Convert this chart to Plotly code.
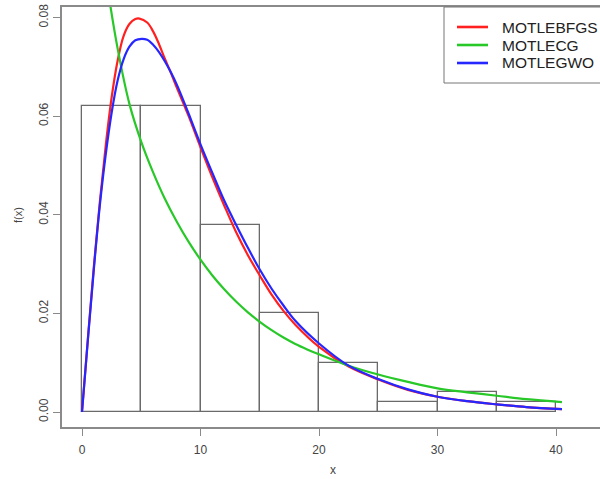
import plotly.graph_objects as go

# Histogram (density) data
bin_left = [0, 5, 10, 15, 20, 25, 30, 35]
bin_width = 5
density = [0.062, 0.062, 0.038, 0.020, 0.010, 0.002, 0.004, 0.002]

# Fitted density curves
x_bfgs = [0, 0.5, 1, 1.5, 2, 2.5, 3, 3.5, 4, 4.5, 4.85, 5.5, 6, 6.5, 7, 7.5, 8, 9, 10, 11, 12,
          13, 14, 15, 16, 17, 18, 20, 22.5, 25, 27.5, 30, 32.5, 35, 37.5, 40.5]
y_bfgs = [0, 0.0150, 0.0295, 0.0425, 0.0540, 0.0638, 0.0712, 0.0762, 0.0787, 0.0797, 0.0798,
          0.0790, 0.0772, 0.0746, 0.0716, 0.0688, 0.0658, 0.0600, 0.0537, 0.0476, 0.0419, 0.0365,
          0.0318, 0.0277, 0.0238, 0.0205, 0.0177, 0.0132, 0.0092, 0.0066, 0.0045, 0.0031, 0.0022,
          0.00155, 0.0010, 0.00058]

x_cg = [0, 1, 2, 3, 4, 5, 6, 7, 8, 9, 10, 11, 12, 13, 14, 15, 16, 17, 18, 19, 20, 22.5, 25, 27.5,
        30, 32.5, 35, 37.5, 40.5]
y_cg = [0.125, 0.106, 0.0885, 0.0738, 0.0625, 0.0548, 0.0486, 0.0432, 0.0386, 0.0345, 0.0309,
        0.0277, 0.0249, 0.0224, 0.0202, 0.0183, 0.0166, 0.0151, 0.0138, 0.0127, 0.0117, 0.0094,
        0.0076, 0.0061, 0.0048, 0.0040, 0.0033, 0.0026, 0.0020]

x_gwo = [0, 0.5, 1, 1.5, 2, 2.5, 3, 3.5, 4, 4.5, 5.04, 5.5, 6, 6.5, 7, 7.5, 8, 8.72, 9, 10, 11, 12,
         13, 14, 15, 16, 17, 18, 20, 22.5, 25, 27.5, 30, 32.5, 35, 37.5, 40.5]
y_gwo = [0, 0.0148, 0.0290, 0.0418, 0.0522, 0.0607, 0.0672, 0.0715, 0.0741, 0.0754, 0.0757,
         0.0755, 0.0745, 0.0730, 0.0711, 0.0689, 0.0664, 0.0622, 0.0605, 0.0543, 0.0485, 0.0429,
         0.0380, 0.0333, 0.0289, 0.0250, 0.0216, 0.0185, 0.0139, 0.0094, 0.0067, 0.0046, 0.0031,
         0.0022, 0.00155, 0.0010, 0.00058]

series_names = ["MOTLEBFGS", "MOTLECG", "MOTLEGWO"]
series_colors = ["#ff2020", "#28c828", "#2626ff"]

x_ticks = [0, 10, 20, 30, 40]
y_ticks = [0.00, 0.02, 0.04, 0.06, 0.08]

FONT = "Liberation Sans, Arial, sans-serif"
AXIS_GRAY = "#8a8a8a"

# plot area in pixels: left 62, right 600, top 7, bottom 427
def px(xp):
    return (xp - 62) / 538.0

def py(yp):
    return (427 - yp) / 420.0

fig = go.Figure()

fig.add_trace(go.Bar(
    x=bin_left, y=density, width=[bin_width] * len(bin_left), offset=0,
    marker=dict(color="rgba(0,0,0,0)", line=dict(color="#6a6a6a", width=1.3)),
    showlegend=False, hoverinfo="skip",
))

for name, xs, ys, col in zip(series_names, [x_bfgs, x_cg, x_gwo], [y_bfgs, y_cg, y_gwo], series_colors):
    fig.add_trace(go.Scatter(
        x=xs, y=ys, mode="lines", name=name, showlegend=False,
        line=dict(color=col, width=2.2, shape="spline", smoothing=1.0),
    ))

# Legend box (R-style, drawn as shapes + text)
shapes = [dict(type="rect", xref="paper", yref="paper", x0=px(444), x1=px(608), y0=py(83), y1=py(7),
               line=dict(color="#777777", width=1), fillcolor="white", layer="above")]
annotations = []
row_y = [27, 45, 63]
for name, col, ry in zip(series_names, series_colors, row_y):
    shapes.append(dict(type="line", xref="paper", yref="paper", x0=px(457), x1=px(488),
                       y0=py(ry), y1=py(ry), line=dict(color=col, width=2.6), layer="above"))
    annotations.append(dict(text=name, xref="paper", yref="paper", x=px(500), y=py(ry),
                            xanchor="left", yanchor="middle", showarrow=False,
                            font=dict(family=FONT, size=15.5, color="#222222")))

annotations += [
    dict(text="x", xref="paper", yref="paper", x=px(333), y=py(470),
         showarrow=False, font=dict(size=12, color="#444444"), xanchor="center", yanchor="middle"),
    dict(text="f(x)", xref="paper", yref="paper", x=px(18), y=py(215),
         showarrow=False, textangle=-90, font=dict(size=11, color="#444444"),
         xanchor="center", yanchor="middle"),
]

fig.update_layout(
    width=600, height=479,
    margin=dict(l=62, r=0, t=7, b=52),
    paper_bgcolor="white", plot_bgcolor="white",
    font=dict(family=FONT, color="#444444"),
    bargap=0, showlegend=False,
    xaxis=dict(
        range=[-1.688, 43.71], tickvals=x_ticks, ticktext=[str(v) for v in x_ticks],
        showgrid=False, zeroline=False,
        showline=True, mirror=True, linecolor=AXIS_GRAY, linewidth=1.5,
        ticks="outside", ticklen=7, tickwidth=1.3, tickcolor=AXIS_GRAY,
        tickfont=dict(size=12, color="#444444"), ticklabelstandoff=4,
    ),
    yaxis=dict(
        range=[-0.00304, 0.08215], tickvals=y_ticks, ticktext=[f"{v:.2f}" for v in y_ticks],
        showgrid=False, zeroline=False,
        showline=True, mirror=False, linecolor=AXIS_GRAY, linewidth=1.5,
        ticks="outside", ticklen=7, tickwidth=1.3, tickcolor=AXIS_GRAY,
        tickangle=-90, tickfont=dict(size=12, color="#444444"),
    ),
    shapes=shapes,
    annotations=annotations,
)

fig.write_html("out.html", config={"displayModeBar": False},
               post_script="document.body.style.margin='0px';")
